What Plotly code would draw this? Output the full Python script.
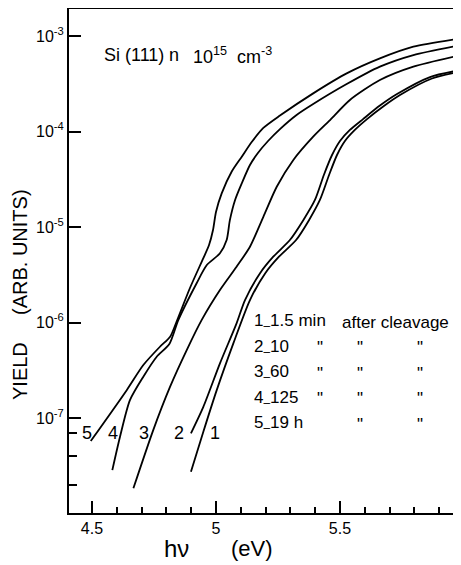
import plotly.graph_objects as go

# ---------------- data ----------------
x1 = [4.899, 4.949, 5.003, 5.070, 5.137, 5.198, 5.254, 5.323, 5.375, 5.419, 5.456, 5.488, 5.520, 5.560, 5.609, 5.677, 5.742, 5.871, 5.988]
y1 = [2.74e-8, 7.19e-8, 1.96e-7, 6.05e-7, 1.72e-6, 3.27e-6, 4.89e-6, 7.31e-6, 1.18e-5, 1.92e-5, 3.51e-5, 5.68e-5, 7.96e-5, 1.04e-4, 1.35e-4, 1.85e-4, 2.41e-4, 3.59e-4, 4.25e-4]

x2 = [4.899, 4.949, 5.016, 5.083, 5.117, 5.177, 5.231, 5.298, 5.352, 5.399, 5.435, 5.468, 5.500, 5.540, 5.593, 5.661, 5.730, 5.863, 5.988]
y2 = [6.92e-8, 1.31e-7, 3.74e-7, 9.82e-7, 1.72e-6, 3.27e-6, 4.89e-6, 7.31e-6, 1.18e-5, 1.92e-5, 3.51e-5, 5.68e-5, 7.96e-5, 1.04e-4, 1.35e-4, 1.87e-4, 2.47e-4, 3.72e-4, 4.41e-4]

x3 = [4.667, 4.747, 4.815, 4.882, 4.942, 5.016, 5.083, 5.137, 5.191, 5.245, 5.312, 5.392, 5.460, 5.540, 5.661, 5.796, 5.988]
y3 = [1.84e-8, 7.48e-8, 2.13e-7, 5.15e-7, 1.06e-6, 2.19e-6, 3.84e-6, 6.22e-6, 1.28e-5, 2.64e-5, 5.04e-5, 8.83e-5, 1.32e-4, 2.14e-4, 3.46e-4, 4.78e-4, 6.32e-4]

x4 = [4.582, 4.613, 4.653, 4.707, 4.761, 4.812, 4.848, 4.922, 4.963, 5.016, 5.043, 5.056, 5.077, 5.104, 5.137, 5.169, 5.210, 5.258, 5.325, 5.392, 5.527, 5.661, 5.796, 5.988]
y4 = [2.85e-8, 6.37e-8, 1.54e-7, 2.71e-7, 4.39e-7, 5.96e-7, 1.06e-6, 2.58e-6, 4.00e-6, 5.31e-6, 7.31e-6, 1.18e-5, 1.92e-5, 2.87e-5, 4.46e-5, 5.96e-5, 7.96e-5, 1.06e-4, 1.49e-4, 1.94e-4, 3.14e-4, 4.78e-4, 6.32e-4, 8.05e-4]

x5 = [4.495, 4.640, 4.707, 4.774, 4.815, 4.839, 4.895, 4.949, 4.972, 4.988, 5.000, 5.023, 5.063, 5.104, 5.144, 5.191, 5.258, 5.392, 5.527, 5.661, 5.796, 5.988]
y5 = [5.74e-8, 1.96e-7, 3.59e-7, 5.58e-7, 7.10e-7, 9.89e-7, 2.30e-6, 4.73e-6, 6.49e-6, 9.31e-6, 1.44e-5, 2.25e-5, 3.79e-5, 5.45e-5, 7.76e-5, 1.09e-4, 1.47e-4, 2.51e-4, 4.06e-4, 5.83e-4, 7.73e-4, 9.46e-4]

curve_labels = ["1", "2", "3", "4", "5"]

y_tickvals = [1e-3, 1e-4, 1e-5, 1e-6, 1e-7]
y_ticktext = ["10<sup>-3</sup>", "10<sup>-4</sup>", "10<sup>-5</sup>", "10<sup>-6</sup>", "10<sup>-7</sup>"]
y_minor_vals = [7e-8, 4e-8, 2e-8]
x_tickvals = [4.5, 5.0, 5.5]
x_ticktext = ["4.5", "5", "5.5"]

DASH = "<sub>–</sub>"
legend_rows = [
    ["1" + DASH + "1.5 min", "after cleavage", "", ""],
    ["2" + DASH + "10", "\"", "\"", "\""],
    ["3" + DASH + "60", "\"", "\"", "\""],
    ["4" + DASH + "125", "\"", "\"", "\""],
    ["5" + DASH + "19 h", "", "\"", "\""],
]
title_parts = ["Si (111)", "n", "10<sup>15</sup>", "cm<sup>-3</sup>"]
xlabel_parts = ["hν", "(eV)"]
ylabel_parts = ["YIELD", "(ARB. UNITS)"]

# ---------------- figure ----------------
# the page body has an 8 px margin, so the figure is drawn 8 px smaller
OFF = 8
W, H = 461 - OFF, 565 - OFF
L, R, T, B = 69 - OFF, 0, 9 - OFF, 565 - 513
FONT = "Liberation Sans, Arial, sans-serif"


def px(xp):
    # page pixel -> paper fraction
    return (xp - OFF - L) / (W - L - R)


def py(yp):
    return (H - B - (yp - OFF)) / (H - T - B)


fig = go.Figure()
for xs, ys in [(x1, y1), (x2, y2), (x3, y3), (x4, y4), (x5, y5)]:
    fig.add_trace(go.Scatter(x=xs, y=ys, mode="lines",
                             line=dict(color="black", width=1.8, shape="spline", smoothing=0.7),
                             showlegend=False, hoverinfo="skip"))

ann = []


def txt(x, y, s, size, anchor="left", angle=0):
    ann.append(dict(x=px(x), y=py(y), xref="paper", yref="paper", text=s,
                    showarrow=False, textangle=angle,
                    font=dict(size=size, family=FONT, color="black"),
                    xanchor=anchor, yanchor="middle"))


# curve number labels
for lab, xp in zip(curve_labels, [215, 179, 144, 113, 87]):
    txt(xp, 433, lab, 18, "center")
# title
for s, xp in zip(title_parts, [102, 167, 191, 235]):
    txt(xp, 55, s, 18)
# legend block
col_x = [252, 315, 355, 415]
row_y = [322, 347.5, 373, 398.5, 424]
for r, row in enumerate(legend_rows):
    for c, s in enumerate(row):
        if not s:
            continue
        xx = 340 if (r == 0 and c == 1) else col_x[c]
        txt(xx, row_y[r], s, 17)
# axis labels
txt(176, 548, xlabel_parts[0], 24, "center")
txt(252, 548, xlabel_parts[1], 22, "center")
txt(20, 371, ylabel_parts[0], 20, "center", -90)
txt(20, 252, ylabel_parts[1], 20, "center", -90)

fig.update_layout(
    width=W, height=H,
    margin=dict(l=L, r=R, t=T, b=B, pad=0),
    paper_bgcolor="white", plot_bgcolor="white",
    font=dict(family=FONT, color="black"),
    annotations=ann,
    showlegend=False,
)
fig.update_xaxes(
    automargin=False,
    range=[4.4073, 5.988], showgrid=False, zeroline=False,
    showline=True, linecolor="black", linewidth=2, mirror=True,
    ticks="inside", ticklen=12, tickwidth=1.5, tickcolor="black",
    tickmode="array", tickvals=x_tickvals, ticktext=x_ticktext,
    tickfont=dict(size=16, family=FONT, color="black"),
    minor=dict(ticks="inside", ticklen=6, tickwidth=1.5, tickcolor="black", dtick=0.1, tick0=4.5, showgrid=False),
)
fig.update_yaxes(
    automargin=False,
    type="log", range=[-7.994, -2.717], showgrid=False, zeroline=False,
    showline=True, linecolor="black", linewidth=2, mirror=False,
    ticks="inside", ticklen=12, tickwidth=1.5, tickcolor="black",
    tickmode="array", tickvals=y_tickvals, ticktext=y_ticktext,
    tickfont=dict(size=16, family=FONT, color="black"),
    minor=dict(ticks="inside", ticklen=8, tickwidth=1.5, tickcolor="black",
               tickmode="array", tickvals=y_minor_vals, showgrid=False),
)

fig.write_html("out.html")
